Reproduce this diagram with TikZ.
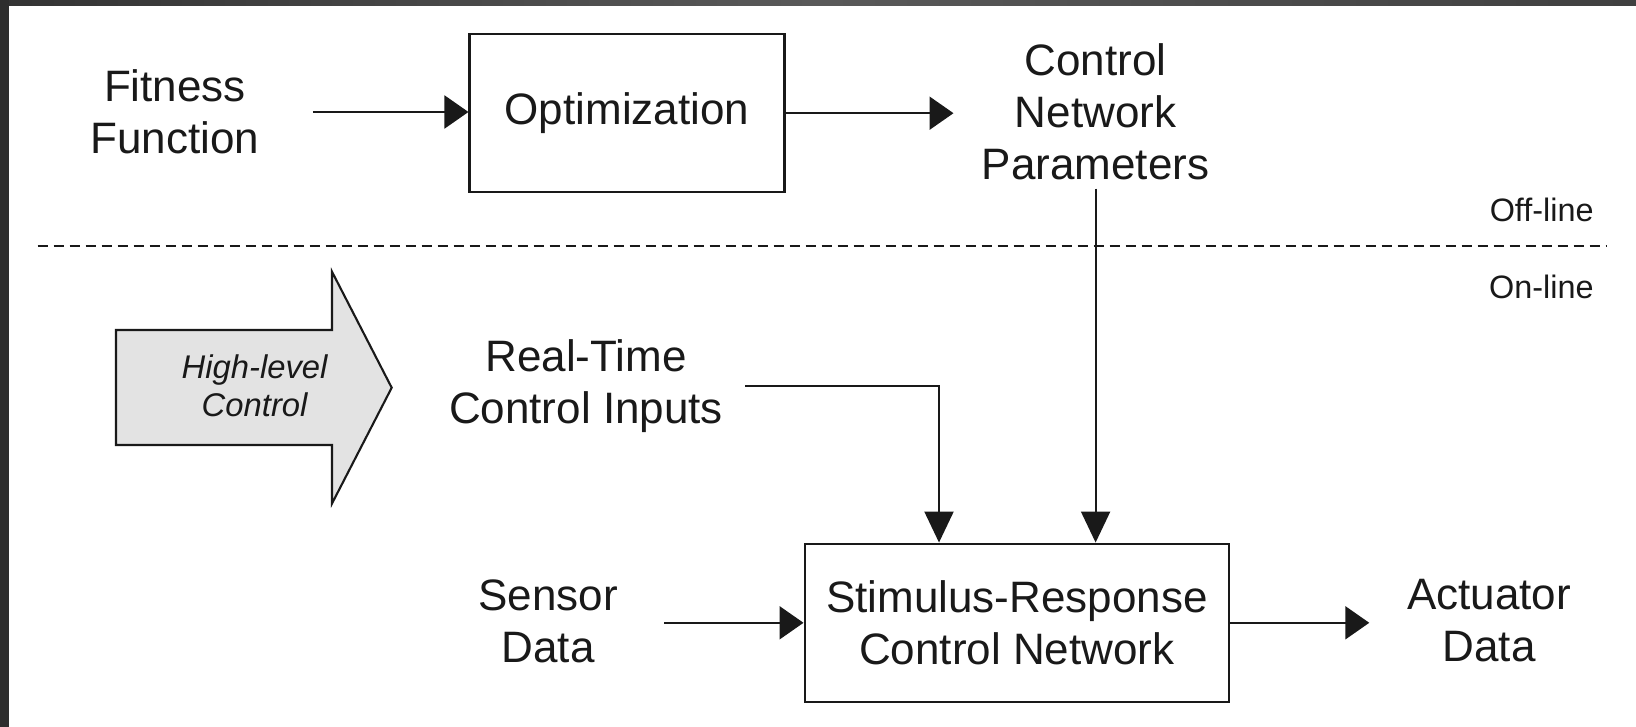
\documentclass[tikz,border=0pt]{standalone}
\usepackage{fontspec}
\setmainfont{Liberation Sans}
\usetikzlibrary{arrows.meta}
\begin{document}
\begin{tikzpicture}[x=0.5pt, y=-0.5pt,
  ink/.style={draw=black!90, line width=1.05pt},
  lbl/.style={text=black!90, align=center, inner sep=0pt, font=\fontsize{22pt}{26pt}\selectfont},
  block/.style={ink, lbl, minimum width=#1},
  arr/.style={ink, -{Triangle[length=12pt,width=16.5pt]}},
  darr/.style={ink, -{Triangle[length=15.5pt,width=14.5pt]}},
  tag/.style={text=black!90, inner sep=0pt, font=\fontsize{16.2pt}{19pt}\selectfont}]
  % canvas and dark frame
  \useasboundingbox (0,0) rectangle (1636,727);
  \fill[white] (0,0) rectangle (1636,727);
  \shade[left color=black!80, right color=black!75, middle color=black!65] (0,0) rectangle (1636,6);
  \fill[black!82] (0,0) rectangle (9,727);

  % off-line part
  \node[lbl] (fit) at (175,112) {Fitness\\Function};
  \node[block=157.5pt, minimum height=78.8pt] (opt) at (627,113.2) {Optimization};
  \node[lbl] (cnp) at (1095.6,112) {Control\\Network\\Parameters};
  \draw[arr, shorten <=26.5pt] (fit.east) -- (fit.east -| opt.west);
  \draw[arr, shorten >=14pt] (opt.east) -- (opt.east -| cnp.west);

  % separator
  \coordinate (sepL) at (37.6,246);
  \coordinate (sepR) at (1607,246);
  \draw[black!90, line width=1.4pt, dash pattern=on 5pt off 3pt] (sepL) -- (sepR);
  \node[tag, anchor=east] (off) at (1594,210) {Off-line};
  \node[tag, anchor=east] (on) at (1594,287) {On-line};

  % high-level control arrow
  \filldraw[fill=black!11, draw=black!90, line width=1.05pt, line join=miter]
    (116,330) -- (332,330) -- (332,271.7) -- (391.7,387.7) -- (332,503.5)
    -- (332,445) -- (116,445) -- cycle;
  \node[tag, align=center, font=\fontsize{16.4pt}{19pt}\selectfont\itshape] (hlc) at (254.6,386) {High-level\\Control};

  % on-line part
  \node[lbl] (rti) at (586,386) {Real-Time\\Control Inputs};
  \node[block=212.25pt, minimum height=79.2pt] (srcn) at (1016.8,622.8) {Stimulus-Response\\Control Network};
  \node[lbl] (sen) at (548,621) {Sensor\\Data};
  \node[lbl] (act) at (1489,621) {Actuator\\Data};

  \draw[darr, shorten <=11pt] (rti.east) -| ([xshift=-38.9pt]srcn.north);
  \draw[darr, shorten <=4pt] (cnp.south) -- (cnp.south |- srcn.north);
  \draw[arr, shorten <=23pt] (sen.east |- srcn.west) -- (srcn.west);
  \draw[arr, shorten >=18.7pt] (srcn.east) -- (srcn.east -| act.west);
\end{tikzpicture}
\end{document}
